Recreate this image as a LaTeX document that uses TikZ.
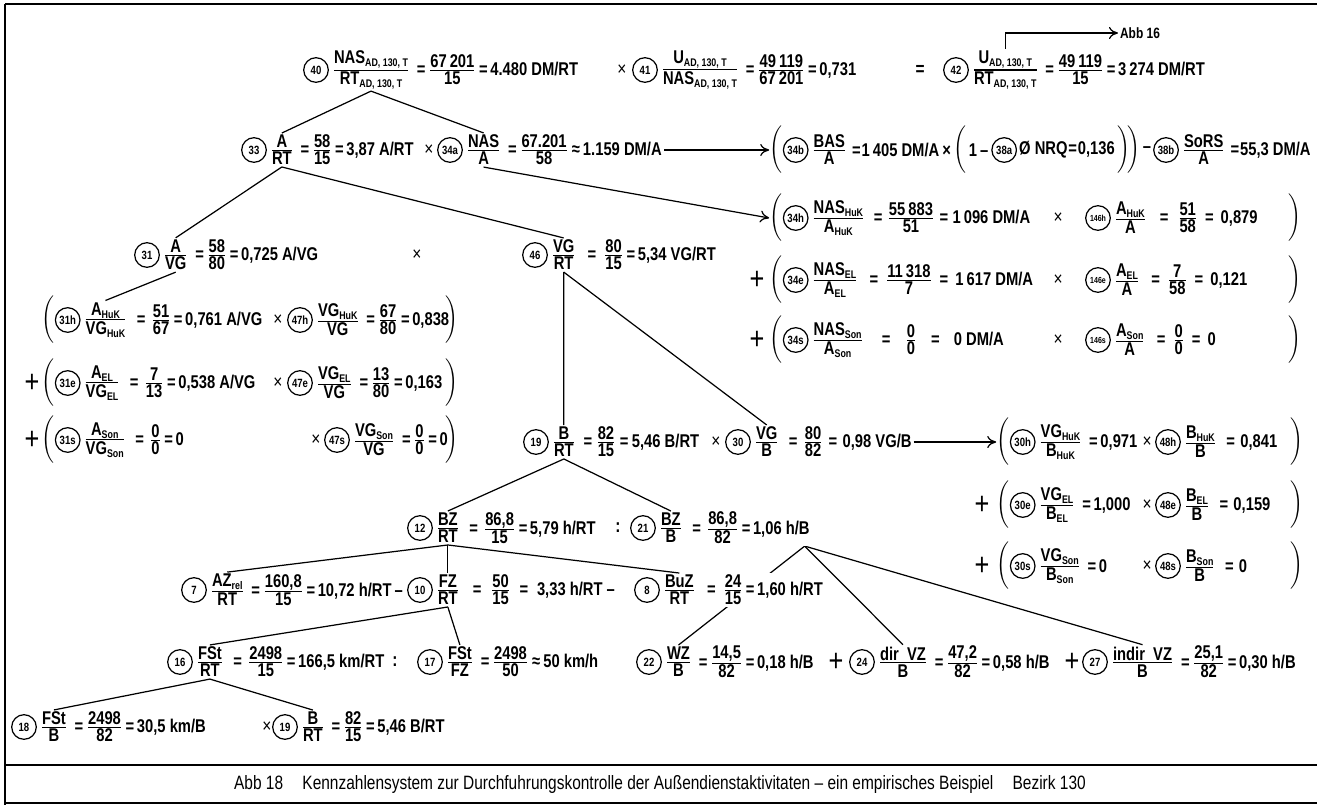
\documentclass[tikz,border=0pt]{standalone}
\usepackage{amsmath}
\usepackage{fontspec}
\setmainfont{Liberation Sans}[FakeStretch=0.8]
\usetikzlibrary{arrows.meta,positioning,backgrounds}

% fraction with full-size text parts
\newcommand\kfr[2]{\ensuremath{\genfrac{}{}{0.6pt}{1}{\mbox{#1}}{\mbox{#2}}}}
\newcommand\ix[1]{\raisebox{-0.3ex}{\fontsize{6.3}{6.3}\selectfont #1}}
\newcommand\eq[1][1.5pt]{\hspace{#1}=\hspace{#1}}
% circled number, ratio and value of one key figure
\newcommand\kz[7][nr]{%
  \node[#1, #3] (k#2) {#4};
  \node[ratio, right=0.5pt of k#2] (r#2) {\kfr{#5}{#6}};
  \node[val, right=0pt of r#2] (v#2) {#7};%
}

\begin{document}
\begin{tikzpicture}[
  x=0.02cm, y=-0.02cm,
  font=\fontsize{10.5}{12}\selectfont\bfseries,
  nr/.style={circle, draw, line width=0.7pt, minimum size=14pt, inner sep=0pt,
    font=\fontsize{6.8}{7}\selectfont\bfseries},
  nrs/.style={nr, font=\fontsize{5}{5}\selectfont\bfseries},
  ratio/.style={inner sep=1pt},
  val/.style={inner sep=1pt, fill=white},
  op/.style={inner sep=1pt, font=\fontsize{11}{12}\selectfont\mdseries},
  brk/.style={inner sep=0pt, font=\fontsize{9.5}{10}\selectfont},
  plus/.style={inner sep=0pt, font=\fontsize{18}{18}\selectfont\mdseries},
  link/.style={line width=0.7pt},
  arrow/.style={-{To[length=1.8mm,width=2.4mm]}, line width=0.7pt},
  frame/.style={line width=1.4pt},
  caption/.style={font=\fontsize{11}{12}\selectfont\mdseries}
]
\useasboundingbox (0,0) rectangle (1317,805);

% frame and caption
\draw[frame] (5,4) -- (1317,4);
\draw[frame] (5,4) -- (5,805);
\draw[line width=0.9pt] (5,765) -- (1317,765);
\draw[line width=0.9pt] (5,803) -- (1317,803);
\node[caption] (cap) at (660,784) {Abb 18\quad Kennzahlensystem zur Durchfuhrungskontrolle der Außendienstaktivitaten -- ein empirisches Beispiel\quad Bezirk 130};

% top row
\kz{40}{at={(316,70)}}{40}{NAS\ix{AD, 130, T}}{RT\ix{AD, 130, T}}{\eq\kfr{67\,201}{15}\eq4.480 DM/RT}
\node[op] (x40) at (622,70) {×};
\kz{41}{at={(645,70)}}{41}{U\ix{AD, 130, T}}{NAS\ix{AD, 130, T}}{\eq\kfr{49\,119}{67\,201}\eq0,731}
\node[op] (e41) at (920,70) {\bfseries =};
\kz{42}{at={(956,70)}}{42}{U\ix{AD, 130, T}}{RT\ix{AD, 130, T}}{\eq\kfr{49\,119}{15}\eq3\,274 DM/RT}
\node[inner sep=1pt, font=\fontsize{8.5}{9}\selectfont\bfseries] (abb16) at (1140,33) {Abb 16};

% A per RT and DM per A
\kz{33}{at={(254,150)}}{33}{A}{RT}{\eq\kfr{58}{15}\eq3,87 A/RT}
\node[op] (x33) at (429,150) {×};
\kz{34a}{at={(450,150)}}{34a}{NAS}{A}{\eq\kfr{67.201}{58}\,≈\,1.159 DM/A}

\node[brk] (ob34b) at (776,150) {$\Bigg($};
\kz{34b}{right=0pt of ob34b}{34b}{BAS}{A}{\eq[0.5pt]1\,405 DM/A\,×}
\node[brk, right=0pt of v34b] (oi34b) {$\Bigg($};
\node[val, right=0pt of oi34b] (t34b) {1\,--};
\node[nr, right=0.5pt of t34b] (k38a) {38a};
\node[val, right=0pt of k38a] (v38a) {Ø NRQ\eq[0.5pt]0,136};
\node[brk, right=0pt of v38a] (cb34b) {$\Bigg)\!\Bigg)$};
\node[val, right=0pt of cb34b] (m34b) {--};
\kz{38b}{right=0pt of m34b}{38b}{SoRS}{A}{\eq[0.5pt]55,3 DM/A}

\node[brk] (ob34h) at (776,218) {$\Bigg($};
\kz{34h}{right=0pt of ob34h}{34h}{NAS\ix{HuK}}{A\ix{HuK}}{\eq[2.5pt]\kfr{55\,883}{51}\eq[2.5pt]1\,096 DM/A}
\node[op] (x34h) at (1058,218) {×};
\kz[nrs]{146h}{at={(1098,218)}}{146h}{A\ix{HuK}}{A}{\eq[5pt]\kfr{51}{58}\eq[4pt]0,879}
\node[brk] (cb34h) at (1295,218) {$\Bigg)$};

\node[plus] (p34e) at (757,280) {+};
\node[brk] (ob34e) at (776,280) {$\Bigg($};
\kz{34e}{right=0pt of ob34e}{34e}{NAS\ix{EL}}{A\ix{EL}}{\eq[4pt]\kfr{11\,318}{7}\eq[4pt]1\,617 DM/A}
\node[op] (x34e) at (1058,280) {×};
\kz[nrs]{146e}{at={(1098,280)}}{146e}{A\ix{EL}}{A}{\eq[4pt]\kfr{7}{58}\eq[4pt]0,121}
\node[brk] (cb34e) at (1295,280) {$\Bigg)$};

\node[plus] (p34s) at (757,340) {+};
\node[brk] (ob34s) at (776,340) {$\Bigg($};
\kz{34s}{right=0pt of ob34s}{34s}{NAS\ix{Son}}{A\ix{Son}}{\eq[8pt]\kfr{0}{0}\eq[8pt]0 DM/A}
\node[op] (x34s) at (1058,340) {×};
\kz[nrs]{146s}{at={(1098,340)}}{146s}{A\ix{Son}}{A}{\eq[4pt]\kfr{0}{0}\eq[4pt]0}
\node[brk] (cb34s) at (1295,340) {$\Bigg)$};

% A per VG and VG per RT
\kz{31}{at={(147,255)}}{31}{A}{VG}{\eq\kfr{58}{80}\eq0,725 A/VG}
\node[op] (x31) at (417,255) {×};
\kz{46}{at={(535,255)}}{46}{VG}{RT}{\eq[4pt]\kfr{80}{15}\eq5,34 VG/RT}

\node[brk] (ob31h) at (48,320) {$\Bigg($};
\kz{31h}{right=0pt of ob31h}{31h}{A\ix{HuK}}{VG\ix{HuK}}{\eq[3pt]\kfr{51}{67}\eq0,761 A/VG}
\node[op] (x31h) at (278,320) {×};
\kz{47h}{at={(300,320)}}{47h}{VG\ix{HuK}}{VG}{\eq\kfr{67}{80}\eq0,838}
\node[brk] (cb31h) at (452,320) {$\Bigg)$};

\node[plus] (p31e) at (32,383) {+};
\node[brk] (ob31e) at (48,383) {$\Bigg($};
\kz{31e}{right=0pt of ob31e}{31e}{A\ix{EL}}{VG\ix{EL}}{\eq[3pt]\kfr{7}{13}\eq0,538 A/VG}
\node[op] (x31e) at (278,383) {×};
\kz{47e}{at={(300,383)}}{47e}{VG\ix{EL}}{VG}{\eq\kfr{13}{80}\eq0,163}
\node[brk] (cb31e) at (452,383) {$\Bigg)$};

\node[plus] (p31s) at (32,440) {+};
\node[brk] (ob31s) at (48,440) {$\Bigg($};
\kz{31s}{right=0pt of ob31s}{31s}{A\ix{Son}}{VG\ix{Son}}{\eq[3pt]\kfr{0}{0}\eq0}
\node[op] (x31s) at (316,440) {×};
\kz{47s}{at={(337,440)}}{47s}{VG\ix{Son}}{VG}{\eq\kfr{0}{0}\eq0}
\node[brk] (cb31s) at (452,440) {$\Bigg)$};

% B per RT and VG per B
\kz{19}{at={(536,442)}}{19}{B}{RT}{\eq[2pt]\kfr{82}{15}\eq[2pt]5,46 B/RT}
\node[op] (x19) at (716,442) {×};
\kz{30}{at={(738,442)}}{30}{VG}{B}{\eq[3pt]\kfr{80}{82}\eq[3pt]0,98 VG/B}

\node[brk] (ob30h) at (1003,442) {$\Bigg($};
\kz{30h}{right=0pt of ob30h}{30h}{VG\ix{HuK}}{B\ix{HuK}}{\eq0,971}
\node[op] (x30h) at (1147,442) {×};
\kz{48h}{at={(1168,442)}}{48h}{B\ix{HuK}}{B}{\eq[3pt]0,841}
\node[brk] (cb30h) at (1297,442) {$\Bigg)$};

\node[plus] (p30e) at (982,505) {+};
\node[brk] (ob30e) at (1003,505) {$\Bigg($};
\kz{30e}{right=0pt of ob30e}{30e}{VG\ix{EL}}{B\ix{EL}}{\eq1,000}
\node[op] (x30e) at (1147,505) {×};
\kz{48e}{at={(1168,505)}}{48e}{B\ix{EL}}{B}{\eq[3pt]0,159}
\node[brk] (cb30e) at (1297,505) {$\Bigg)$};

\node[plus] (p30s) at (982,566) {+};
\node[brk] (ob30s) at (1003,566) {$\Bigg($};
\kz{30s}{right=0pt of ob30s}{30s}{VG\ix{Son}}{B\ix{Son}}{\eq0}
\node[op] (x30s) at (1147,566) {×};
\kz{48s}{at={(1168,566)}}{48s}{B\ix{Son}}{B}{\eq[3pt]0}
\node[brk] (cb30s) at (1297,566) {$\Bigg)$};

% hours per RT and per B
\kz{12}{at={(420,528)}}{12}{BZ}{RT}{\eq[3pt]\kfr{86,8}{15}\eq5,79 h/RT}
\node[op] (c12) at (618,528) {\bfseries :};
\kz{21}{at={(643,528)}}{21}{BZ}{B}{\eq[3pt]\kfr{86,8}{82}\eq1,06 h/B}
\coordinate (a21) at ([xshift=-4pt]v21.south east);

\kz{7}{at={(194,590)}}{7}{AZ\ix{rel}}{RT}{\eq\kfr{160,8}{15}\eq10,72 h/RT\,--}
\kz{10}{at={(420,590)}}{10}{FZ}{RT}{\eq[5pt]\kfr{50}{15}\eq[5pt]3,33 h/RT\ --}
\kz{8}{at={(647,590)}}{8}{BuZ}{RT}{\eq[4pt]\kfr{24}{15}\eq1,60 h/RT}

\kz{16}{at={(180,662)}}{16}{FSt}{RT}{\eq[3pt]\kfr{2498}{15}\eq166,5 km/RT}
\node[op] (c16) at (395,662) {\bfseries :};
\kz{17}{at={(430,662)}}{17}{FSt}{FZ}{\eq\kfr{2498}{50}\,≈\,50 km/h}
\kz{22}{at={(649,662)}}{22}{WZ}{B}{\eq\kfr{14,5}{82}\eq0,18 h/B}
\node[plus] (p24) at (836,662) {+};
\kz{24}{at={(862,662)}}{24}{dir\ \ VZ}{B}{\eq\kfr{47,2}{82}\eq0,58 h/B}
\node[plus] (p27) at (1072,662) {+};
\kz{27}{at={(1095,662)}}{27}{indir\ \ VZ}{B}{\eq\kfr{25,1}{82}\eq0,30 h/B}

\kz{18}{at={(24,727)}}{18}{FSt}{B}{\eq\kfr{2498}{82}\eq30,5 km/B}
\node[op] (x18) at (267,727) {×};
\kz{19b}{at={(285,727)}}{19}{B}{RT}{\eq\kfr{82}{15}\eq5,46 B/RT}

% connectors
\begin{scope}[on background layer]
\foreach \a/\b in {r40/r33,r40/r34a,r33/r31,r33/r46,r31/r31h,r46/r19,r46/r30,
  r19/r12,r19/r21,r12/r7,r12/r10,r12/r8,r10/r16,r10/r17,r16/r18,r16/r19b}
  \draw[link] (\a.south) -- (\b.north);
\foreach \b in {r22,r24,r27}
  \draw[link] (a21) -- (\b.north);
\draw[arrow] (v34a.east) -- (ob34b.west);
\draw[arrow] (r34a.south) -- (ob34h.west);
\draw[arrow] (v30.east) -- (ob30h.west);
\draw[arrow] (r42.north) |- (abb16.west);
\end{scope}

\end{tikzpicture}
\end{document}
